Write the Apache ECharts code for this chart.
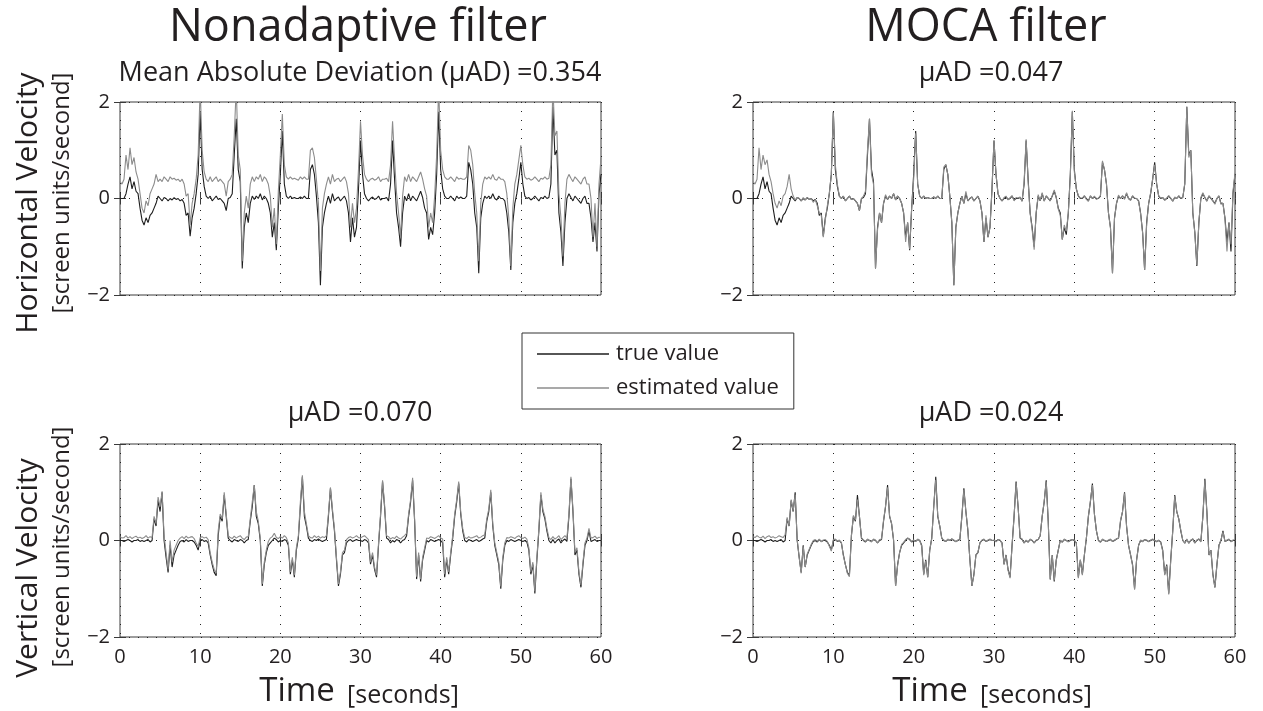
<!DOCTYPE html>
<html><head><meta charset="utf-8">
<script src="https://cdn.jsdelivr.net/npm/echarts@6/dist/echarts.min.js"></script>
<style>html,body{margin:0;padding:0;background:#fff}#c{width:1263px;height:711px}</style>
</head><body><div id="c"></div>
<script>
// sampling step of the recorded series, seconds
const dt = 0.25;
const xTicks = [0, 10, 20, 30, 40, 50, 60];
const yTicks = [-2, 0, 2];
const legendNames = ['true value', 'estimated value'];

// Horizontal velocity, true value
const hTrue = [
0, 0, 0, 0.1,
0.3, 0.45, 0.2, 0.35,
0.15, 0.1, -0.2, -0.45,
-0.55, -0.4, -0.5, -0.35,
-0.3, -0.2, -0.1, 0.05,
0, -0.05, 0.02, 0,
-0.05, 0, -0.03, 0.02,
-0.02, 0, -0.05, -0.02,
-0.1, -0.35, -0.3, -0.78,
-0.4, -0.2, 0.1, 0.5,
1.8, 0.6, 0.25, 0.05,
0, 0.05, -0.05, 0,
0.05, -0.02, 0, -0.05,
-0.1, -0.25, 0, 0.02,
0.1, 0.9, 1.65, 0.6,
0.35, -1.45, -0.6, -0.3,
-0.5, -0.1, 0.05, -0.02,
0.05, 0, 0.1, -0.03,
0.05, 0, -0.1, -0.3,
-0.8, -0.5, -1.07, -0.2,
0.5, 1.4, 0.3, 0.05,
0, 0.05, 0, 0.02,
0, 0, 0.03, 0,
0.05, 0, 0, 0.6,
0.7, 0.5, 0.05, -0.5,
-1.8, -0.6, -0.3, -0.1,
0.05, -0.1, 0.1, -0.05,
0, 0.03, -0.05, 0,
0.05, -0.05, -0.3, -0.9,
-0.4, -0.8, -0.6, 0.2,
1.2, 0.5, 0.1, 0,
-0.05, 0, 0.03, -0.02,
0, 0.05, -0.03, 0,
0, 0.02, -0.05, 0.3,
1.2, 0.4, -0.3, -0.6,
-1.0, -0.3, 0.05, -0.05,
0.1, -0.05, 0.05, 0,
-0.05, 0.05, 0.15, 0.02,
-0.2, -0.3, -0.85, -0.6,
-0.75, -0.3, 0.5, 1.8,
0.6, 0.2, 0.05, 0,
0, 0.05, 0, -0.05,
0.05, 0, 0.03, 0,
0, 0.05, 0.75, 0.6,
0.3, -0.3, -0.6, -1.55,
-0.4, -0.1, 0.05, 0,
0.05, 0, 0.1, 0,
-0.03, 0.05, 0, 0,
-0.05, -0.3, -0.7, -1.48,
-0.5, -0.1, 0.1, 0.4,
0.75, 0.3, 0.05, 0,
0.02, -0.03, 0, 0.05,
0, -0.05, 0.02, 0,
0.05, 0, 0.02, 0.3,
1.9, 0.9, 1.0, -0.3,
-0.7, -1.4, -0.5, 0,
0.1, 0.02, -0.05, 0.05,
0, -0.05, -0.1, 0,
0.05, -0.1, -0.1, -0.4,
-0.9, -0.5, -1.1, 0.1,
0.5];

// Horizontal velocity, nonadaptive filter estimate
const hEstNon = [
0.35, 0.3, 0.4, 0.9,
0.6, 1.05, 0.7, 0.85,
0.55, 0.4, 0.1, -0.2,
-0.3, -0.05, -0.15, 0.1,
0.2, 0.3, 0.5, 0.35,
0.4, 0.35, 0.45, 0.4,
0.35, 0.45, 0.4, 0.42,
0.38, 0.4, 0.35, 0.4,
0.3, 0.05, 0.1, -0.55,
-0.1, 0.1, 0.4, 0.9,
2.3, 1.0, 0.55, 0.4,
0.35, 0.45, 0.35, 0.4,
0.45, 0.35, 0.4, 0.35,
0.3, 0.05, 0.35, 0.4,
0.5, 1.3, 2.3, 0.9,
0.6, -1.3, -0.3, 0.05,
-0.2, 0.3, 0.45, 0.35,
0.45, 0.4, 0.5, 0.35,
0.45, 0.4, 0.3, 0.05,
-0.6, -0.2, -0.95, 0.15,
0.9, 1.75, 0.7, 0.45,
0.4, 0.45, 0.4, 0.42,
0.4, 0.38, 0.45, 0.4,
0.45, 0.4, 0.4, 1.0,
1.05, 0.85, 0.4, -0.1,
-1.5, -0.2, 0.1, 0.3,
0.45, 0.3, 0.5, 0.35,
0.4, 0.42, 0.35, 0.4,
0.45, 0.35, 0.1, -0.6,
-0.1, -0.5, -0.2, 0.6,
1.6, 0.9, 0.5, 0.4,
0.35, 0.4, 0.42, 0.38,
0.4, 0.45, 0.35, 0.4,
0.4, 0.42, 0.35, 0.7,
1.6, 0.8, 0.1, -0.3,
-0.8, 0.05, 0.45, 0.35,
0.5, 0.35, 0.45, 0.4,
0.35, 0.45, 0.55, 0.4,
0.2, 0.05, -0.6, -0.3,
-0.5, 0.05, 0.9, 2.3,
1.0, 0.6, 0.45, 0.4,
0.4, 0.45, 0.4, 0.35,
0.45, 0.4, 0.42, 0.4,
0.4, 0.45, 1.1, 1.0,
0.7, 0.1, -0.3, -1.3,
-0.1, 0.3, 0.45, 0.4,
0.45, 0.4, 0.5, 0.4,
0.38, 0.45, 0.4, 0.4,
0.35, 0.1, -0.4, -1.4,
-0.2, 0.3, 0.5, 0.8,
1.1, 0.7, 0.45, 0.4,
0.42, 0.38, 0.4, 0.45,
0.4, 0.35, 0.42, 0.4,
0.45, 0.4, 0.42, 0.7,
2.3, 1.3, 1.4, 0.1,
-0.4, -1.2, -0.1, 0.4,
0.5, 0.42, 0.35, 0.45,
0.4, 0.35, 0.3, 0.4,
0.45, 0.3, 0.3, 0,
-0.8, -0.1, -1.0, 0.3,
0.85];

// Horizontal velocity, MOCA filter estimate
const hEstMoca = [
0.35, 0.3, 0.4, 1.05,
0.6, 0.9, 0.7, 0.8,
0.5, 0.35, 0.1, -0.1,
-0.2, -0.05, -0.15, 0.05,
0.1, 0.25, 0.5, 0.2,
0.05, -0.03, 0.02, 0,
-0.05, 0.02, -0.03, 0.02,
-0.02, 0, -0.08, -0.02,
-0.15, -0.3, -0.35, -0.8,
-0.45, -0.15, 0.1, 0.5,
1.78, 0.7, 0.3, 0.05,
0, 0.05, -0.05, 0,
0.05, -0.02, 0, -0.05,
-0.1, -0.25, 0, 0.05,
0.15, 1.0, 1.65, 0.5,
0.3, -1.45, -0.65, -0.3,
-0.5, -0.1, 0.08, -0.02,
0.05, 0, 0.1, -0.03,
0.05, 0, -0.1, -0.3,
-0.9, -0.5, -1.05, -0.2,
0.4, 1.35, 0.3, 0.05,
0, 0.05, 0, 0.02,
0, 0, 0.03, 0,
0.05, 0, 0, 0.65,
0.7, 0.5, 0.05, -0.5,
-1.8, -0.6, -0.3, -0.1,
0.05, -0.1, 0.15, -0.05,
0, 0.03, -0.05, 0,
0.05, -0.05, -0.3, -0.9,
-0.35, -0.8, -0.6, 0.2,
1.2, 0.5, 0.1, 0,
-0.05, 0.02, 0.05, -0.03,
0.02, 0.06, -0.05, 0.02,
0.01, 0.03, -0.06, 0.35,
1.23, 0.35, -0.3, -0.65,
-1.06, -0.3, 0.08, -0.05,
0.12, -0.06, 0.06, 0.01,
-0.05, 0.06, 0.18, 0.02,
-0.22, -0.35, -0.85, -0.55,
-0.68, -0.3, 0.45, 1.82,
0.55, 0.2, 0.06, 0.01,
0.01, 0.06, -0.02, -0.06,
0.06, 0, 0.05, -0.02,
0.01, 0.06, 0.78, 0.6,
0.3, -0.3, -0.62, -1.55,
-0.42, -0.1, 0.07, 0,
0.06, -0.02, 0.12, 0,
-0.04, 0.06, 0.01, 0,
-0.06, -0.32, -0.72, -1.48,
-0.55, -0.1, 0.12, 0.4,
0.7, 0.3, 0.06, 0.01,
0.02, -0.04, 0.01, 0.06,
0.01, -0.06, 0.03, 0,
0.06, 0.01, 0.02, 0.32,
1.9, 0.85, 1.0, -0.3,
-0.72, -1.38, -0.5, 0.02,
0.12, 0.02, -0.06, 0.06,
0.01, -0.05, -0.12, 0,
0.06, -0.12, -0.1, -0.42,
-1.1, -0.5, -0.95, 0.15,
0.53];

// Vertical velocity, true value
const vTrue = [
0, 0, -0.02, 0,
0.02, 0, -0.03, 0,
0, 0.02, -0.02, 0,
-0.02, 0, 0.02, -0.03,
0, 0.45, 0.3, 0.83,
0.6, 1.0, 0.0, -0.35,
-0.66, -0.1, -0.55, -0.3,
-0.2, -0.1, -0.02, 0,
-0.03, 0.02, -0.02, 0,
0, -0.03, -0.1, -0.2,
0, 0.02, -0.02, 0,
-0.05, -0.3, -0.5, -0.66,
-0.73, 0.1, 0.5, 0.4,
0.94, 0.5, 0.05, 0,
-0.03, 0.02, 0, -0.02,
0.02, 0, -0.05, 0,
0.02, 0.4, 0.7, 1.15,
0.5, 0.35, 0, -0.94,
-0.5, -0.25, -0.1, -0.05,
0, 0.05, 0.02, -0.03,
0, -0.02, 0.02, 0,
-0.1, -0.7, -0.4, -0.76,
-0.2, 0.05, 0.7, 1.32,
0.5, 0.3, 0.05, 0,
-0.02, 0.02, 0, 0.03,
0, -0.02, 0, 0.02,
0.5, 1.08, 0.6, 0.2,
-0.4, -0.94, -0.7, -0.3,
-0.25, -0.05, 0, 0.02,
-0.02, 0, 0.02, 0,
0, -0.02, 0.02, 0,
-0.05, -0.49, -0.3, -0.6,
-0.76, -0.1, 0.5, 1.22,
0.7, 0.05, 0.02, -0.05,
0, -0.03, 0.02, 0,
-0.05, 0, 0.02, 0.1,
0.5, 0.8, 1.25, 0.4,
-0.8, -0.3, -0.85, -0.4,
-0.2, 0, -0.03, 0.02,
0, -0.02, 0, 0.02,
0, -0.05, -0.76, -0.4,
-0.7, -0.3, 0.05, 0.5,
0.8, 1.18, 0.55, 0.2,
0, -0.03, 0.02, 0,
-0.02, 0, 0.02, -0.02,
0, 0.03, 0.05, 0.4,
0.6, 1.0, 0.3, -0.1,
-0.3, -0.5, -1.0, -0.4,
-0.1, 0, -0.02, 0.02,
0, -0.02, 0, 0.02,
0, -0.02, 0, -0.03,
-0.2, -0.7, -0.5, -1.1,
-0.4, 0.2, 0.94, 0.6,
0.45, 0.2, 0, -0.05,
0.02, -0.05, 0, 0.03,
-0.05, 0, 0.03, -0.02,
0.5, 1.28, 0.6, -0.3,
-0.2, -0.7, -0.97, -0.5,
-0.1, 0, 0.2, -0.02,
0, 0.02, -0.02, 0,
0];

// Vertical velocity, nonadaptive filter estimate
const vEstNon = [
0.08, 0.05, 0.06, 0.1,
0.05, 0.08, 0.04, 0.07,
0.09, 0.05, 0.07, 0.04,
0.06, 0.1, 0.05, 0.08,
0.06, 0.5, 0.35, 0.9,
0.7, 1.02, 0.1, -0.25,
-0.6, 0, -0.45, -0.2,
-0.1, 0, 0.05, 0.08,
0.04, 0.09, 0.05, 0.07,
0.08, 0.04, -0.05, -0.12,
0.06, 0.08, 0.05, 0.07,
0.02, -0.25, -0.45, -0.6,
-0.68, 0.2, 0.55, 0.45,
1.0, 0.55, 0.1, 0.06,
0.04, 0.09, 0.05, 0.08,
0.1, 0.05, 0.02, 0.07,
0.08, 0.45, 0.8, 1.15,
0.6, 0.4, 0.05, -0.9,
-0.45, -0.2, -0.02, 0.05,
0.08, 0.15, 0.06, 0.04,
0.08, 0.05, 0.1, 0.06,
-0.05, -0.65, -0.35, -0.72,
-0.15, 0.1, 0.8, 1.35,
0.6, 0.35, 0.1, 0.06,
0.05, 0.1, 0.06, 0.09,
0.05, 0.08, 0.06, 0.1,
0.55, 1.1, 0.65, 0.25,
-0.35, -0.9, -0.65, -0.25,
-0.2, 0.02, 0.06, 0.08,
0.05, 0.07, 0.1, 0.06,
0.05, 0.08, 0.1, 0.06,
0.02, -0.45, -0.25, -0.55,
-0.72, -0.05, 0.55, 1.25,
0.75, 0.1, 0.08, 0.03,
0.06, 0.04, 0.09, 0.05,
0.03, 0.07, 0.1, 0.15,
0.55, 0.85, 1.3, 0.45,
-0.75, -0.25, -0.8, -0.35,
-0.15, 0.05, 0.04, 0.08,
0.06, 0.04, 0.07, 0.1,
0.05, 0.03, -0.7, -0.35,
-0.65, -0.25, 0.1, 0.55,
0.85, 1.22, 0.6, 0.25,
0.06, 0.04, 0.08, 0.05,
0.06, 0.08, 0.1, 0.05,
0.07, 0.1, 0.12, 0.45,
0.65, 1.05, 0.35, -0.05,
-0.25, -0.45, -0.95, -0.35,
-0.05, 0.06, 0.05, 0.08,
0.06, 0.04, 0.08, 0.1,
0.06, 0.04, 0.07, 0.03,
-0.15, -0.65, -0.45, -1.05,
-0.35, 0.25, 1.0, 0.65,
0.5, 0.25, 0.06, 0.02,
0.08, 0.03, 0.06, 0.1,
0.02, 0.06, 0.1, 0.05,
0.55, 1.32, 0.65, -0.25,
-0.15, -0.65, -0.92, -0.45,
-0.05, 0.05, 0.25, 0.05,
0.06, 0.09, 0.04, 0.07,
0.05];

// Vertical velocity, MOCA filter estimate
const vEstMoca = [
0.08, 0.06, 0.1, 0.07,
0.05, 0.09, 0.04, 0.08,
0.1, 0.06, 0.08, 0.05,
0.07, 0.1, 0.08, 0.06,
0.12, 0.48, 0.3, 0.85,
0.62, 0.95, 0.02, -0.35,
-0.68, -0.12, -0.55, -0.28,
-0.18, -0.08, 0, 0.02,
-0.02, 0.03, -0.03, 0.01,
0.02, -0.02, -0.12, -0.22,
0.02, 0.03, -0.01, 0.01,
-0.04, -0.32, -0.5, -0.68,
-0.75, 0.1, 0.52, 0.42,
0.85, 0.5, 0.06, 0.01,
-0.02, 0.03, 0, -0.03,
0.03, 0.01, -0.05, 0.02,
0.03, 0.42, 0.72, 1.1,
0.52, 0.35, 0.02, -0.94,
-0.52, -0.25, -0.08, -0.04,
0.02, 0.05, 0.03, -0.02,
0.01, -0.02, 0.03, 0,
-0.12, -0.72, -0.42, -0.76,
-0.2, 0.04, 0.72, 1.26,
0.52, 0.3, 0.04, 0.01,
-0.02, 0.03, 0, 0.03,
0.01, -0.03, 0.01, 0.03,
0.5, 1.05, 0.6, 0.22,
-0.4, -0.94, -0.72, -0.3,
-0.24, -0.05, 0.01, 0.03,
-0.02, 0.01, 0.03, 0,
0.01, -0.03, 0.02, 0.01,
-0.06, -0.5, -0.3, -0.62,
-0.78, -0.1, 0.5, 1.2,
0.7, 0.06, 0.03, -0.05,
0.01, -0.04, 0.03, 0,
-0.05, 0.01, 0.02, 0.1,
0.5, 0.82, 1.22, 0.4,
-0.82, -0.3, -0.83, -0.42,
-0.2, 0.01, -0.04, 0.03,
0, -0.03, 0.01, 0.02,
0.01, -0.06, -0.78, -0.4,
-0.72, -0.3, 0.05, 0.5,
0.82, 1.15, 0.55, 0.2,
0.01, -0.04, 0.03, 0,
-0.02, 0.01, 0.03, -0.02,
0.01, 0.03, 0.05, 0.42,
0.6, 0.98, 0.3, -0.1,
-0.3, -0.52, -1.02, -0.4,
-0.1, 0.01, -0.03, 0.02,
0.01, -0.03, 0.01, 0.03,
0, -0.03, 0.01, -0.04,
-0.22, -0.72, -0.52, -1.12,
-0.42, 0.2, 0.92, 0.6,
0.45, 0.22, 0.01, -0.06,
0.03, -0.06, 0.01, 0.03,
-0.05, 0.01, 0.03, -0.03,
0.5, 1.25, 0.58, -0.3,
-0.2, -0.72, -0.98, -0.5,
-0.1, 0.01, 0.18, -0.02,
0.01, 0.03, -0.03, 0.01,
0.02];

const FONT = "'Open Sans', 'DejaVu Sans', sans-serif";
const TXT = '#231f20';
const FRAME = '#3a3a3a';
const COL_TRUE = '#1e1e1e';
const COL_EST = '#8c8c8c';

function pairs(arr) { return arr.map((v, i) => [i * dt, v]); }
function fmtY(v) { return v < 0 ? '\u2212' + (-v) : String(v); }

const grids = [
  {left: 120, top: 102, width: 481, height: 193},
  {left: 753, top: 102, width: 482, height: 193},
  {left: 120, top: 444, width: 481, height: 193},
  {left: 753, top: 444, width: 482, height: 193}
];
const panels = [
  {tru: hTrue, est: hEstNon, labels: false},
  {tru: hTrue, est: hEstMoca, labels: false},
  {tru: vTrue, est: vEstNon, labels: true},
  {tru: vTrue, est: vEstMoca, labels: true}
];

const xAxis = [], yAxis = [], series = [];
const dotted = {show: true, lineStyle: {color: '#222', type: [1, 8], width: 1}};
panels.forEach((p, i) => {
  xAxis.push({
    type: 'value', gridIndex: i, min: xTicks[0], max: xTicks[xTicks.length - 1], interval: xTicks[1] - xTicks[0],
    axisLine: {show: false},
    axisTick: {inside: true, length: 6, lineStyle: {color: FRAME}},
    axisLabel: {show: p.labels, fontSize: 20, color: TXT, fontFamily: FONT, margin: 10},
    splitLine: dotted
  });
  yAxis.push({
    type: 'value', gridIndex: i, min: yTicks[0], max: yTicks[yTicks.length - 1], interval: yTicks[1] - yTicks[0],
    axisLine: {show: false},
    axisTick: {inside: true, length: 6, lineStyle: {color: FRAME}},
    axisLabel: {fontSize: 20, color: TXT, fontFamily: FONT, margin: 10, formatter: fmtY},
    splitLine: dotted
  });
});
panels.forEach((p, i) => {
  xAxis.push({
    type: 'value', gridIndex: i, position: 'top', min: xTicks[0], max: xTicks[xTicks.length - 1], interval: xTicks[1] - xTicks[0],
    axisLine: {show: false}, axisTick: {inside: true, length: 6, lineStyle: {color: FRAME}},
    axisLabel: {show: false}, splitLine: {show: false}
  });
  yAxis.push({
    type: 'value', gridIndex: i, position: 'right', min: yTicks[0], max: yTicks[yTicks.length - 1], interval: yTicks[1] - yTicks[0],
    axisLine: {show: false}, axisTick: {inside: true, length: 6, lineStyle: {color: FRAME}},
    axisLabel: {show: false}, splitLine: {show: false}
  });
  series.push({
    name: legendNames[0], type: 'line', xAxisIndex: i, yAxisIndex: i, data: pairs(p.tru),
    showSymbol: false, symbol: 'none', clip: true, z: 2,
    lineStyle: {color: COL_TRUE, width: 1.1}, itemStyle: {color: COL_TRUE}
  });
  series.push({
    name: legendNames[1], type: 'line', xAxisIndex: i, yAxisIndex: i, data: pairs(p.est),
    showSymbol: false, symbol: 'none', clip: true, z: 3,
    lineStyle: {color: COL_EST, width: 1.1}, itemStyle: {color: COL_EST}
  });
});

function txt(x, y, text, size, rot) {
  return {
    type: 'text', x: x, y: y, rotation: rot || 0, silent: true,
    style: {text: text, fontSize: size, fontFamily: FONT, fill: TXT,
      align: 'center', verticalAlign: 'middle', textAlign: 'center', textVerticalAlign: 'middle'}
  };
}
const R = Math.PI / 2;
const graphic = [
  txt(358, 28, 'Nonadaptive filter', 45),
  txt(986, 28, 'MOCA filter', 45),
  txt(360, 73, 'Mean Absolute Deviation (\u03bcAD) =0.354', 27),
  txt(991, 73, '\u03bcAD =0.047', 27),
  txt(360, 413, '\u03bcAD =0.070', 27),
  txt(991, 413, '\u03bcAD =0.024', 27),
  txt(28, 203, 'Horizontal Velocity', 30, R),
  txt(62, 193, '[screen units/second]', 24, R),
  txt(28, 568, 'Vertical Velocity', 30, R),
  txt(62, 547, '[screen units/second]', 24, R),
  txt(297, 692, 'Time', 33),
  txt(403, 696, '[seconds]', 25),
  txt(930, 692, 'Time', 33),
  txt(1036, 696, '[seconds]', 25)
];

const chart = echarts.init(document.getElementById('c'), null, {renderer: 'canvas', width: 1263, height: 711});
chart.setOption({
  animation: false,
  backgroundColor: '#fff',
  grid: grids.map(g => Object.assign({show: true, borderColor: FRAME, borderWidth: 1, backgroundColor: 'transparent', containLabel: false}, g)),
  xAxis: xAxis,
  yAxis: yAxis,
  legend: {
    data: legendNames, orient: 'vertical', left: 522, top: 333,
    padding: [10, 15, 10, 15], itemGap: 12, itemWidth: 72, itemHeight: 1.5, icon: 'rect',
    borderColor: '#333', borderWidth: 1, selectedMode: false,
    textStyle: {fontSize: 22, fontFamily: FONT, color: TXT, padding: [0, 0, 0, 2]}
  },
  graphic: graphic,
  series: series
});
</script></body></html>
